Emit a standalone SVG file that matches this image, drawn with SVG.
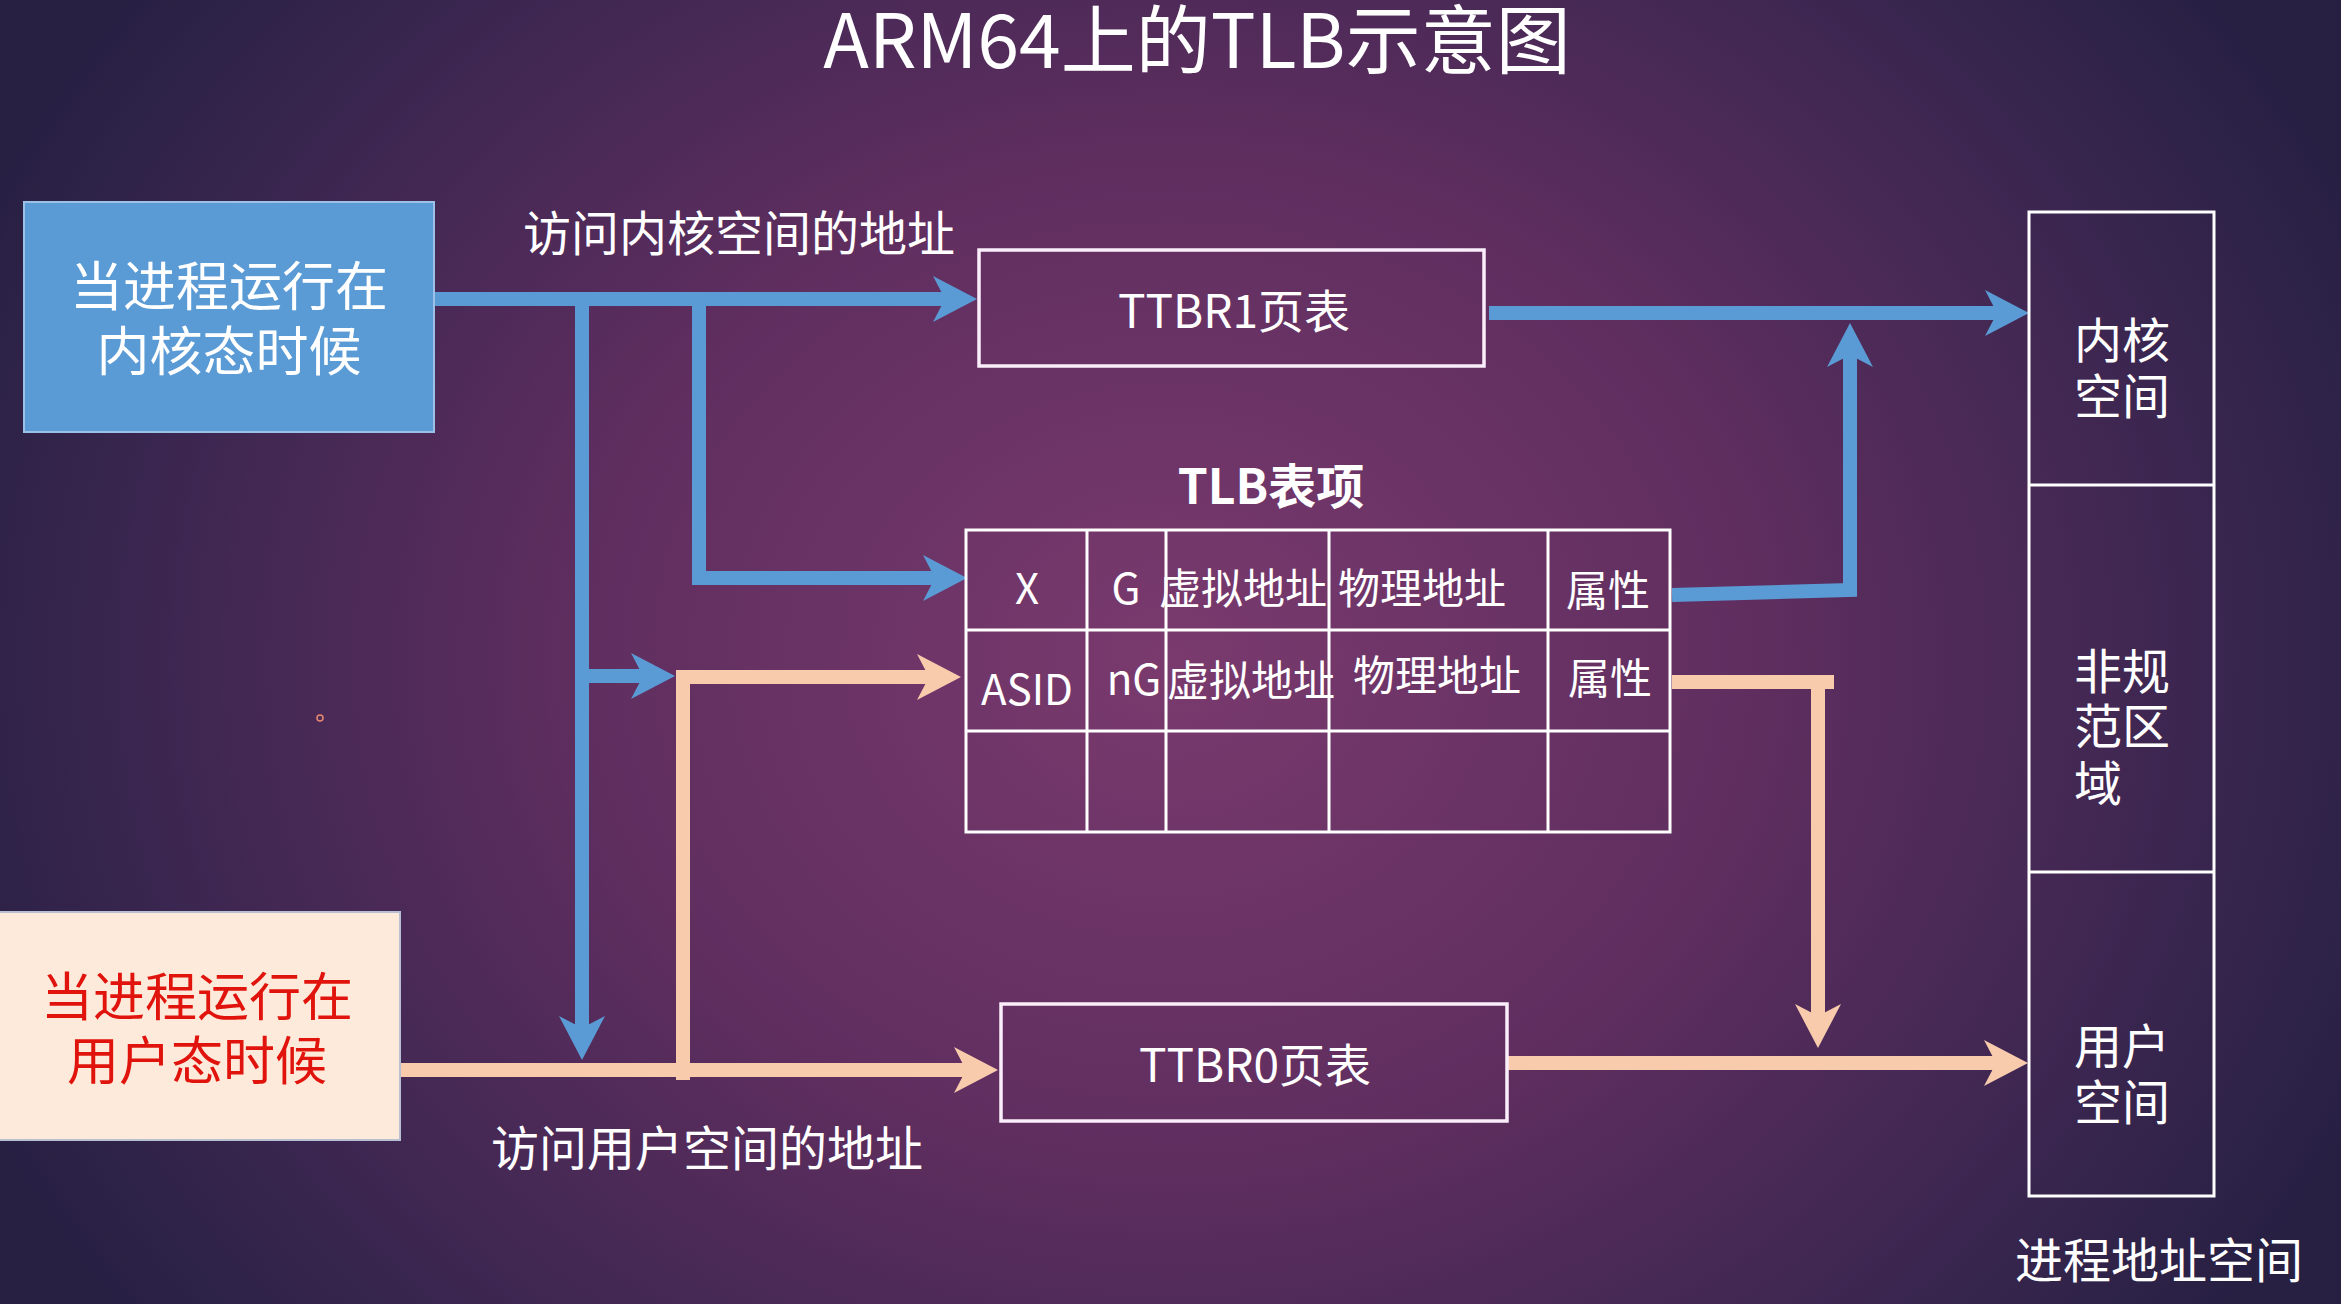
<svg xmlns="http://www.w3.org/2000/svg" width="2341" height="1304" viewBox="0 0 2341 1304">
  <defs>
    <radialGradient id="bg" gradientUnits="userSpaceOnUse" cx="1170" cy="660" r="1300" gradientTransform="translate(1170 660) scale(1 0.85) translate(-1170 -660)">
      <stop offset="0" stop-color="#7a3a6e"/>
      <stop offset="0.45" stop-color="#5f2e5f"/>
      <stop offset="0.8" stop-color="#3a2650"/>
      <stop offset="1" stop-color="#272043"/>
    </radialGradient>
    <marker id="ahBlue" viewBox="-16 -25 48 50" refX="0" refY="0" markerWidth="48" markerHeight="50" markerUnits="userSpaceOnUse" orient="auto">
      <path d="M30,0 L-14,-23 L-2,0 L-14,23 Z" fill="#5b9bd5"/>
    </marker>
    <marker id="ahOrange" viewBox="-16 -25 48 50" refX="0" refY="0" markerWidth="48" markerHeight="50" markerUnits="userSpaceOnUse" orient="auto">
      <path d="M30,0 L-14,-23 L-2,0 L-14,23 Z" fill="#f8cbad"/>
    </marker>
  </defs>
  <style>
    text { font-family: "Noto Sans CJK SC", "Noto Sans", sans-serif; fill: #ffffff; }
    .mid { text-anchor: middle; }
    .lbl { font-size: 48px; }
    .cell { font-size: 42px; text-anchor: middle; }
    .frame { fill: none; stroke: #fbeefb; stroke-width: 3.5; }
    .grid { fill: none; stroke: #ffffff; stroke-width: 3; }
    .blue { fill: none; stroke: #5b9bd5; stroke-width: 14; }
    .orange { fill: none; stroke: #f8cbad; stroke-width: 14; }
  </style>

  <rect x="0" y="0" width="2341" height="1304" fill="url(#bg)"/>

  <text id="title" class="mid" x="1197" y="68" font-size="75">ARM64上的TLB示意图</text>

  <g id="connectors">
    <path class="blue" d="M434,299 H947" marker-end="url(#ahBlue)"/>
    <path class="blue" d="M582,299 V1030" marker-end="url(#ahBlue)"/>
    <path class="blue" d="M699,299 V578 H937" marker-end="url(#ahBlue)"/>
    <path class="blue" d="M582,676 H645" marker-end="url(#ahBlue)"/>
    <path class="blue" d="M1489,313 H1999" marker-end="url(#ahBlue)"/>
    <path class="blue" d="M1672,595 L1850,590 V353" marker-end="url(#ahBlue)"/>
    <path class="orange" d="M400,1070 H968" marker-end="url(#ahOrange)"/>
    <path class="orange" d="M683,1080 V677 H931" marker-end="url(#ahOrange)"/>
    <path class="orange" d="M1507,1063 H1998" marker-end="url(#ahOrange)"/>
    <path class="orange" d="M1672,682 H1834"/>
    <path class="orange" d="M1818,676 V1018" marker-end="url(#ahOrange)"/>
  </g>

  <g id="kernel-mode">
    <rect x="24" y="202" width="410" height="230" fill="#5b9bd5" stroke="#9cc0e6" stroke-width="2"/>
    <text class="mid" font-size="53"><tspan x="229" y="306">当进程运行在</tspan><tspan x="229" y="371">内核态时候</tspan></text>
  </g>

  <g id="user-mode">
    <rect x="-2" y="912" width="402" height="228" fill="#fdeada" stroke="#b8bfd0" stroke-width="2"/>
    <text class="mid" font-size="52" style="fill:#e0140c"><tspan x="197" y="1016">当进程运行在</tspan><tspan x="197" y="1080">用户态时候</tspan></text>
  </g>

  <g id="label-kernel-access">
    <text class="lbl" x="523" y="251">访问内核空间的地址</text>
  </g>
  <g id="label-user-access">
    <text class="lbl" x="491" y="1166">访问用户空间的地址</text>
  </g>

  <g id="ttbr1">
    <rect class="frame" x="979" y="250" width="505" height="116"/>
    <text class="mid" x="1234" y="328" font-size="46">TTBR1页表</text>
  </g>

  <g id="ttbr0">
    <rect class="frame" x="1001" y="1004" width="506" height="117"/>
    <text class="mid" x="1255" y="1082" font-size="46">TTBR0页表</text>
  </g>

  <g id="tlb">
    <text class="mid" x="1271" y="504" font-size="48" font-weight="bold">TLB表项</text>
    <rect class="grid" x="966" y="530" width="704" height="302"/>
    <path class="grid" d="M966,630 H1670 M966,731 H1670 M1087,530 V832 M1166,530 V832 M1329,530 V832 M1548,530 V832"/>
    <text class="cell" x="1027" y="604">X</text>
    <text class="cell" x="1126" y="604">G</text>
    <text class="cell" x="1243" y="604">虚拟地址</text>
    <text class="cell" x="1422" y="604">物理地址</text>
    <text class="cell" x="1608" y="606">属性</text>
    <text class="cell" x="1027" y="705">ASID</text>
    <text class="cell" x="1134" y="695">nG</text>
    <text class="cell" x="1251" y="696">虚拟地址</text>
    <text class="cell" x="1437" y="691">物理地址</text>
    <text class="cell" x="1610" y="694">属性</text>
  </g>

  <g id="address-space">
    <rect class="grid" x="2029" y="212" width="185" height="984"/>
    <path class="grid" d="M2029,485 H2214 M2029,872 H2214"/>
    <text class="lbl"><tspan x="2074" y="358">内核</tspan><tspan x="2074" y="414">空间</tspan></text>
    <text class="lbl"><tspan x="2074" y="689">非规</tspan><tspan x="2074" y="744">范区</tspan><tspan x="2074" y="801">域</tspan></text>
    <text class="lbl"><tspan x="2074" y="1064">用户</tspan><tspan x="2074" y="1120">空间</tspan></text>
    <text class="lbl" x="2015" y="1278">进程地址空间</text>
  </g>

  <circle cx="320" cy="718" r="3" fill="none" stroke="#e88a70" stroke-width="1.5"/>
</svg>
